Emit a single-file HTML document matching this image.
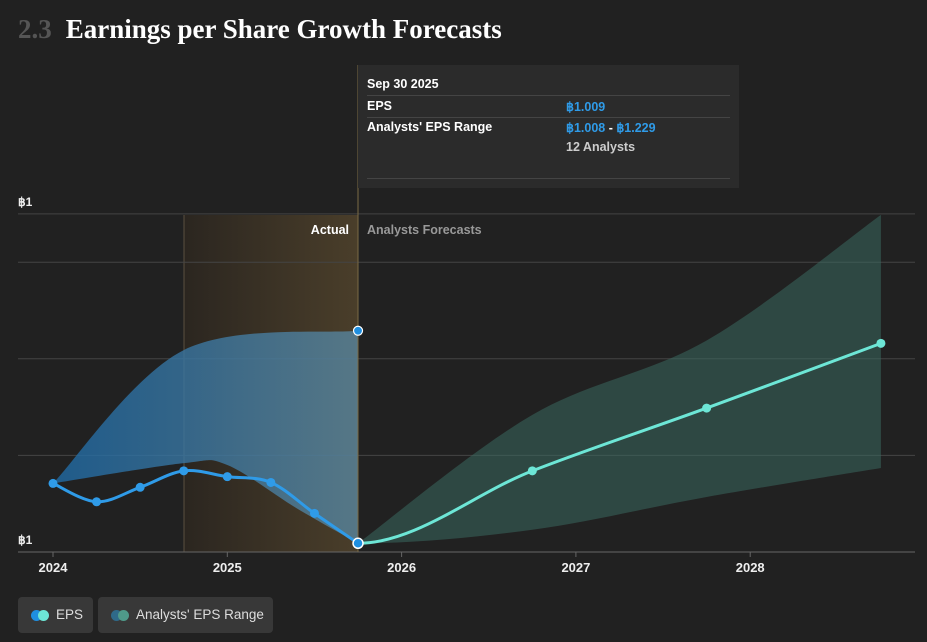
<!DOCTYPE html>
<html><head><meta charset="utf-8"><style>
body{margin:0;background:#212121;width:927px;height:642px;overflow:hidden;font-family:"Liberation Sans",sans-serif}
.t{position:absolute;left:18px;top:14px;font-family:"Liberation Serif",serif;font-size:27px;color:#fff;font-weight:bold}
.t span{color:#555;margin-right:14px}
.tip{position:absolute;left:358px;top:65px;width:381px;height:123px;background:#2b2b2b;font-size:12.5px;color:#fff;font-weight:bold}
.tip .r{position:absolute;left:9px;width:363px;border-top:1px solid #444;height:0}
.b{color:#2f9be8}
.leg{position:absolute;top:597px;height:36px;background:#383838;border-radius:4px;color:#ddd;font-size:13.5px;line-height:36px;box-sizing:border-box;padding-left:38px;white-space:nowrap}
.dot{position:absolute;top:13px;width:11px;height:11px;border-radius:50%}
</style></head><body>
<div class="t"><span>2.3</span>Earnings per Share Growth Forecasts</div>
<svg id="c" width="927" height="642" style="position:absolute;left:0;top:0">
<defs>
<linearGradient id="hl" x1="0" x2="1"><stop offset="0" stop-color="#2b2620"/><stop offset="1" stop-color="#4a3e2a"/></linearGradient>
<linearGradient id="bl" x1="0" x2="1"><stop offset="0" stop-color="#1f6aa5" stop-opacity=".8"/><stop offset="1" stop-color="#5a8aa5" stop-opacity=".75"/></linearGradient>
</defs>
</svg>
<div class="tip">
<div style="position:absolute;left:9px;top:12px">Sep 30 2025</div>
<div class="r" style="top:30px"></div>
<div style="position:absolute;left:9px;top:34px">EPS</div><div class="b" style="position:absolute;left:208px;top:34px">฿1.009</div>
<div class="r" style="top:52px"></div>
<div style="position:absolute;left:9px;top:55px">Analysts' EPS Range</div><div style="position:absolute;left:208px;top:55px"><span class="b">฿1.008</span> - <span class="b">฿1.229</span></div>
<div style="position:absolute;left:208px;top:75px;color:#ccc">12 Analysts</div>
<div class="r" style="top:113px"></div>
</div>
<div class="leg" style="left:18px;width:75px"><div class="dot" style="left:13px;background:#1f8fe0"></div><div class="dot" style="left:20px;background:#6de6d6"></div>EPS</div>
<div class="leg" style="left:98px;width:175px"><div class="dot" style="left:13px;background:#2f6a8a"></div><div class="dot" style="left:20px;background:#4f9a8a"></div>Analysts' EPS Range</div>
<script>
const years=[2024,2025,2026,2027,2028];
const grid=[1.1,1.2,1.3,1.35];
const actT=[2024,2024.25,2024.5,2024.75,2025,2025.25,2025.5,2025.75];
const actV=[1.071,1.052,1.067,1.084,1.078,1.072,1.040,1.009];
const fcT=[2025.75,2026.75,2027.75,2028.75];
const fcV=[1.009,1.084,1.149,1.216];
const fcHi=[1.009,1.142,1.219,1.349];
const fcLo=[1.009,1.023,1.057,1.087];
const pastT=[2024,2024.75,2025.75];
const pastHi=[1.071,1.209,1.229];
const pastLoT=[2024,2024.75,2025,2025.4,2025.75];
const pastLo=[1.071,1.092,1.090,1.045,1.009];
const X=t=>53+(t-2024)*174.3, Y=v=>552-(v-1)*966;
const svg=document.getElementById('c'),NS='http://www.w3.org/2000/svg';
function mk(tag,a,name){const e=document.createElementNS(NS,tag);for(const k in a)e.setAttribute(k,a[k]);


svg.appendChild(e);return e;}
function curve(T,V,flatStart,flatEnd){const p=T.map((t,i)=>[X(t),Y(V[i])]);let d='';const n=p.length;
for(let i=0;i<n-1;i++){const a=p[i-1]||p[i],b=p[i],c=p[i+1],e=p[i+2]||c;
let t1x=(c[0]-a[0])/6,t1y=(c[1]-a[1])/6,t2x=(e[0]-b[0])/6,t2y=(e[1]-b[1])/6;
if(i==0&&flatStart){t1x=(c[0]-b[0])/3;t1y=0;}
if(i==n-2&&flatEnd){t2x=(c[0]-b[0])/3;t2y=0;}
d+=` C${b[0]+t1x},${b[1]+t1y} ${c[0]-t2x},${c[1]-t2y} ${c[0]},${c[1]}`;}
return {start:`${p[0][0]},${p[0][1]}`,d};}
function band(T1,H,T2,L,fs,fe){const h=curve(T1,H,fs,false);const l=curve(T2.slice().reverse(),L.slice().reverse(),false,fe);
return `M${h.start}${h.d} L${l.start}${l.d}Z`;}
mk('rect',{x:184,y:215,width:174,height:337,fill:'url(#hl)'},'actual-highlight');
mk('line',{x1:184,x2:184,y1:215,y2:552,stroke:'#5a5040'},'highlight-edge');
grid.forEach(g=>mk('line',{x1:18,x2:915,y1:Y(g),y2:Y(g),stroke:'#444'},'gridline'));
mk('line',{x1:18,x2:915,y1:552,y2:552,stroke:'#666'},'x-axis');
years.forEach(y=>{mk('line',{x1:X(y),x2:X(y),y1:552,y2:557,stroke:'#666'},'x-tick');
const t=mk('text',{x:X(y),y:572,fill:'#eee','font-size':13,'font-weight':'bold','text-anchor':'middle'},'x-tick-label');t.textContent=y;});
[[206,'y-label-top'],[544,'y-label-bottom']].forEach(([y,n])=>{const t=mk('text',{x:18,y:y,fill:'#eee','font-size':12,'font-weight':'bold'},n);t.textContent='฿1';});
mk('path',{d:band(pastT,pastHi,pastLoT,pastLo,false,false),fill:'url(#bl)'},'past-range-band');
mk('path',{d:band(fcT,fcHi,fcT,fcLo,false,true),fill:'#3a6a60','fill-opacity':.55},'forecast-range-band');
mk('line',{x1:358,x2:358,y1:65,y2:552,stroke:'#7a6a45'},'current-line');
let c=curve(actT,actV);mk('path',{d:'M'+c.start+c.d,fill:'none',stroke:'#2f9be8','stroke-width':3},'eps-actual-line');
c=curve(fcT,fcV,true);mk('path',{d:'M'+c.start+c.d,fill:'none',stroke:'#6de6d6','stroke-width':3},'eps-forecast-line');
actT.forEach((t,i)=>{if(i<actT.length-1)mk('circle',{cx:X(t),cy:Y(actV[i]),r:4.5,fill:'#2f9be8'},'eps-point');});
fcT.forEach((t,i)=>{if(i>0)mk('circle',{cx:X(t),cy:Y(fcV[i]),r:4.5,fill:'#6de6d6'},'forecast-point');});
mk('circle',{cx:X(2025.75),cy:Y(pastHi[2]),r:4.5,fill:'#1f8fe0',stroke:'#fff','stroke-width':1.2},'range-high-point');
mk('circle',{cx:X(2025.75),cy:Y(actV[7]),r:5,fill:'#1f8fe0',stroke:'#fff','stroke-width':1.5},'current-eps-point');
let t=mk('text',{x:349,y:234,fill:'#fff','font-size':12.5,'font-weight':'bold','text-anchor':'end'},'actual-label');t.textContent='Actual';
t=mk('text',{x:367,y:234,fill:'#999','font-size':12.5,'font-weight':'bold'},'forecast-label');t.textContent='Analysts Forecasts';
</script>
</body></html>
